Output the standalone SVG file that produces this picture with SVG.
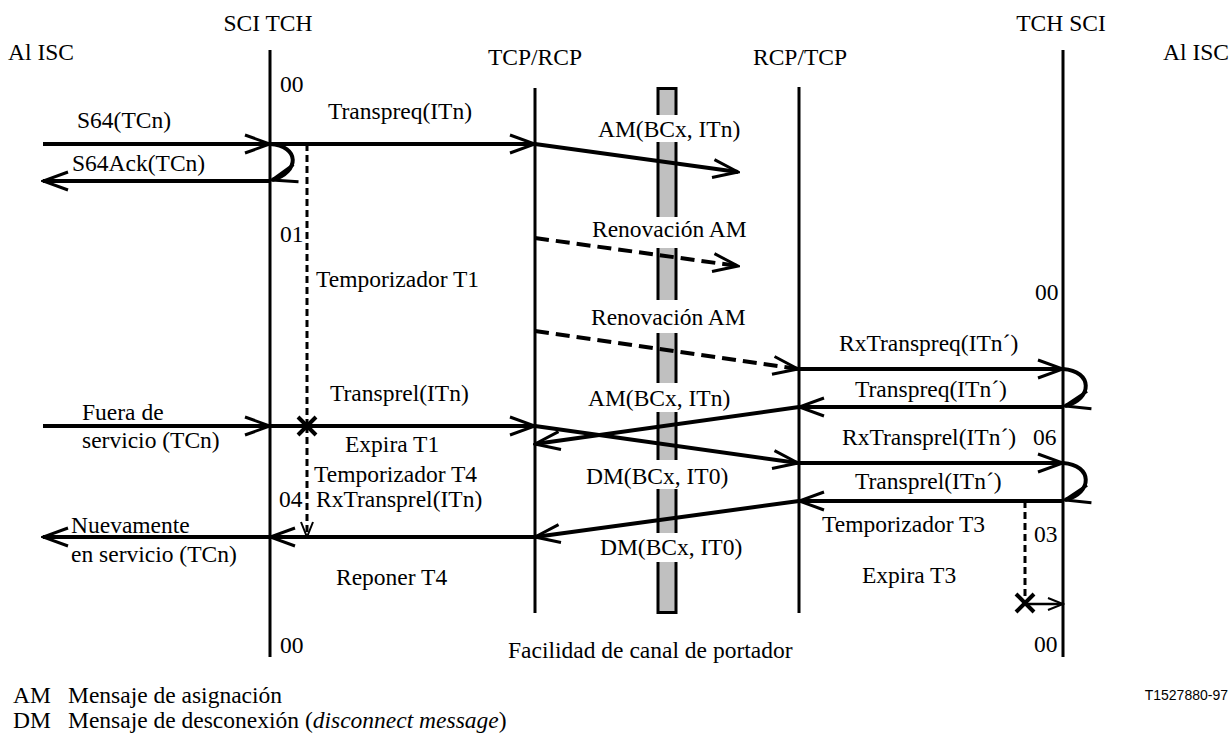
<svg xmlns="http://www.w3.org/2000/svg" width="1231" height="733" viewBox="0 0 1231 733">
<style>
text{font-family:"Liberation Serif","Times New Roman",serif;font-size:23.5px;fill:#000}
.mid{text-anchor:middle}
.code{font-family:"Liberation Sans",Arial,sans-serif;font-size:14px;text-anchor:end}
.life{stroke:#000;stroke-width:3;fill:none}
.msg{stroke:#000;stroke-width:4;fill:none;marker-end:url(#ah)}
.dmsg{stroke:#000;stroke-width:4;fill:none;stroke-dasharray:14 7;marker-end:url(#ah)}
.loop{stroke:#000;stroke-width:4;fill:none;marker-end:url(#ah)}
.timer{stroke:#000;stroke-width:3;fill:none;stroke-dasharray:7 4}
.tarr{marker-end:url(#ahs)}
.xm{stroke:#000;stroke-width:4;fill:none}
.plain{stroke:#000;stroke-width:2.5;fill:none;marker-end:url(#ahs)}
.blank{fill:#fff;stroke:none}
</style>
<defs>
<marker id="ah" markerUnits="userSpaceOnUse" viewBox="-28 -12 30 24" markerWidth="30" markerHeight="24" refX="0" refY="0" orient="auto">
<path d="M-25,-9 L0,0 L-25,9" fill="none" stroke="#000" stroke-width="3"/>
</marker>
<marker id="ahs" markerUnits="userSpaceOnUse" viewBox="-18 -9 20 18" markerWidth="20" markerHeight="18" refX="0" refY="0" orient="auto">
<path d="M-15,-6 L0,0 L-15,6" fill="none" stroke="#000" stroke-width="2"/>
</marker>
</defs>
<rect width="1231" height="733" fill="#fff"/>

<g id="node-sci-tch-left">
<text class="mid" x="268" y="31">SCI TCH</text>
<line class="life" x1="270" y1="50" x2="270" y2="657"/>
<text x="280" y="92">00</text>
<text x="280" y="242">01</text>
<text x="279" y="507">04</text>
<text x="280" y="653">00</text>
</g>

<g id="node-al-isc-left">
<text x="8" y="60">Al ISC</text>
</g>

<g id="node-tcp-rcp">
<text class="mid" x="535" y="65">TCP/RCP</text>
<line class="life" x1="535" y1="88" x2="535" y2="613"/>
</g>

<g id="node-bearer">
<rect x="658" y="88.5" width="18" height="524" fill="#c0c0c0" stroke="#000" stroke-width="3"/>
<rect class="blank" x="654" y="115" width="26" height="27"/>
<rect class="blank" x="654" y="217" width="26" height="31"/>
<rect class="blank" x="654" y="300" width="26" height="33"/>
<rect class="blank" x="654" y="383" width="26" height="29"/>
<rect class="blank" x="654" y="460" width="26" height="29"/>
<rect class="blank" x="654" y="533" width="26" height="29"/>
<text x="508" y="658">Facilidad de canal de portador</text>
</g>

<g id="node-rcp-tcp">
<text class="mid" x="800" y="65">RCP/TCP</text>
<line class="life" x1="799" y1="87" x2="799" y2="613"/>
</g>

<g id="node-tch-sci-right">
<text class="mid" x="1061" y="31">TCH SCI</text>
<line class="life" x1="1063" y1="50" x2="1063" y2="657"/>
<text x="1035" y="300">00</text>
<text x="1033" y="445">06</text>
<text x="1034" y="542">03</text>
<text x="1034" y="652">00</text>
</g>

<g id="node-al-isc-right">
<text x="1163" y="60">Al ISC</text>
</g>

<g id="connectors">
<path class="msg" d="M43,144 H270"/>
<path class="loop" d="M270,144 C300,146 300,172 272,180"/>
<path class="msg" d="M270,181 H43"/>
<path class="msg" d="M270,144 H535"/>
<path class="msg" d="M535,144 L738,172"/>
<path class="dmsg" d="M535,238 L738,266"/>
<path class="dmsg" d="M535,331 L798,369"/>
<path class="msg" d="M799,369 H1063"/>
<path class="loop" d="M1063,369 C1093,371 1093,399 1065,406"/>
<path class="msg" d="M1063,407 H799"/>
<path class="msg" d="M799,407 L535,444"/>
<path class="msg" d="M43,426 H270"/>
<path class="msg" d="M270,426 H535"/>
<path class="msg" d="M535,426 L798,463"/>
<path class="msg" d="M799,463 H1063"/>
<path class="loop" d="M1063,463 C1093,465 1093,493 1065,500"/>
<path class="msg" d="M1063,501 H799"/>
<path class="msg" d="M799,501 L535,537"/>
<path class="msg" d="M535,537 H270"/>
<path class="msg" d="M270,537 H43"/>
<path class="timer" d="M307,144 V426"/>
<path class="timer tarr" d="M307,426 V537"/>
<path class="xm" d="M298,417 L316,435 M316,417 L298,435"/>
<path class="timer" d="M1025,501 V603"/>
<path class="xm" d="M1016,594 L1034,612 M1034,594 L1016,612"/>
<path class="plain" d="M1025,604 H1063"/>
</g>

<g id="labels">
<text x="77" y="128">S64(TCn)</text>
<text x="72" y="171">S64Ack(TCn)</text>
<text x="328" y="119">Transpreq(ITn)</text>
<text x="598" y="137">AM(BCx, ITn)</text>
<text x="592" y="237">Renovación AM</text>
<text x="316" y="287">Temporizador T1</text>
<text x="591" y="325">Renovación AM</text>
<text x="839" y="351">RxTranspreq(ITn´)</text>
<text x="855" y="397">Transpreq(ITn´)</text>
<text x="588" y="406">AM(BCx, ITn)</text>
<text x="330" y="401">Transprel(ITn)</text>
<text x="82" y="420">Fuera de</text>
<text x="82" y="448">servicio (TCn)</text>
<text x="345" y="452">Expira T1</text>
<text x="842" y="445">RxTransprel(ITn´)</text>
<text x="314" y="482">Temporizador T4</text>
<text x="586" y="484">DM(BCx, IT0)</text>
<text x="855" y="489">Transprel(ITn´)</text>
<text x="316" y="507">RxTransprel(ITn)</text>
<text x="71" y="533">Nuevamente</text>
<text x="822" y="532">Temporizador T3</text>
<text x="600" y="555">DM(BCx, IT0)</text>
<text x="71" y="562">en servicio (TCn)</text>
<text x="862" y="583">Expira T3</text>
<text x="336" y="585">Reponer T4</text>
</g>

<g id="legend">
<text x="13" y="703">AM</text>
<text x="68" y="703">Mensaje de asignación</text>
<text x="13" y="728">DM</text>
<text x="68" y="728">Mensaje de desconexión (<tspan font-style="italic">disconnect message</tspan>)</text>
<text class="code" x="1228" y="700">T1527880-97</text>
</g>
</svg>
